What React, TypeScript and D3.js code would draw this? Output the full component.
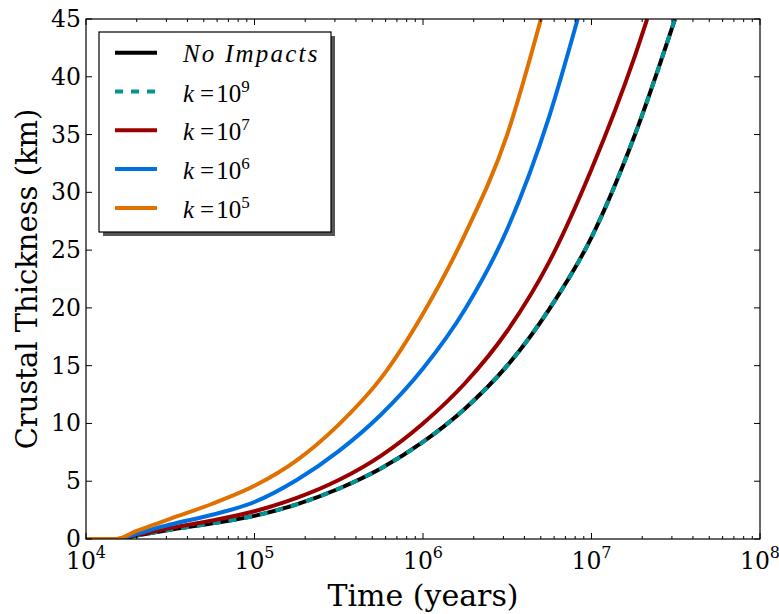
import React from 'react';
import * as d3 from 'd3';

// time in years, crustal thickness in km
const tNoImpacts = [1e4, 1.55e4, 2e4, 3.16e4, 5.62e4, 1e5, 1.78e5, 3.16e5, 5.62e5, 1e6, 1.78e6, 3.16e6, 5.62e6, 1e7, 1.78e7, 3.13e7];
const hNoImpacts = [0, 0, 0.3, 0.8, 1.35, 2.0, 3.0, 4.35, 6.1, 8.4, 11.3, 15.0, 19.9, 26.1, 34.7, 45];
const tK9 = [1e4, 1.55e4, 2e4, 3.16e4, 5.62e4, 1e5, 1.78e5, 3.16e5, 5.62e5, 1e6, 1.78e6, 3.16e6, 5.62e6, 1e7, 1.78e7, 3.13e7];
const hK9 = [0, 0, 0.3, 0.8, 1.35, 2.0, 3.0, 4.35, 6.1, 8.4, 11.3, 15.0, 19.9, 26.1, 34.7, 45];
const tK7 = [1e4, 1.55e4, 2e4, 3.16e4, 5.62e4, 1e5, 1.78e5, 3.16e5, 5.62e5, 1e6, 1.78e6, 3.16e6, 5.62e6, 1e7, 1.78e7, 2.14e7];
const hK7 = [0, 0, 0.35, 0.95, 1.6, 2.4, 3.55, 5.1, 7.2, 10.0, 13.5, 18.0, 24.0, 32.0, 41.5, 45];
const tK6 = [1e4, 1.55e4, 2e4, 3.16e4, 5.62e4, 1e5, 1.78e5, 3.16e5, 5.62e5, 1e6, 1.78e6, 3.16e6, 5.62e6, 8.28e6];
const hK6 = [0, 0, 0.45, 1.25, 2.1, 3.2, 5.1, 7.6, 10.75, 14.75, 19.9, 26.8, 36.6, 45];
const tK5 = [1e4, 1.5e4, 2e4, 3.16e4, 5.62e4, 1e5, 1.78e5, 3.16e5, 5.62e5, 1e6, 1.78e6, 3.16e6, 5.01e6];
const hK5 = [0, 0, 0.7, 1.75, 3.05, 4.6, 6.8, 9.9, 13.9, 19.5, 26.4, 35.0, 45];

const xTickExps = [4, 5, 6, 7, 8];
const yTicks = [0, 5, 10, 15, 20, 25, 30, 35, 40, 45];
const kExps = [9, 7, 6, 5];

const W = 779, H = 614;
const m = { left: 86, right: 760, top: 19, bottom: 539 };
const serif = "'DejaVu Serif', serif";
const mathFont = "'Liberation Serif', 'Times New Roman', serif";

export default function App() {
  const x = d3.scaleLog().domain([1e4, 1e8]).range([m.left, m.right]);
  const y = d3.scaleLinear().domain([0, 45]).range([m.bottom, m.top]);

  const line = d3.line<[number, number]>()
    .x(d => x(d[0]))
    .y(d => y(d[1]))
    .curve(d3.curveMonotoneX);
  const pts = (t: number[], h: number[]) => t.map((v, i) => [v, h[i]] as [number, number]);

  const series = [
    { d: line(pts(tNoImpacts, hNoImpacts)), color: '#000000', dash: null },
    { d: line(pts(tK9, hK9)), color: '#009494', dash: '8,8' },
    { d: line(pts(tK7, hK7)), color: '#990000', dash: null },
    { d: line(pts(tK6, hK6)), color: '#0070e0', dash: null },
    { d: line(pts(tK5, hK5)), color: '#e07000', dash: null },
  ];

  // minor ticks on the log axis
  const minor: number[] = [];
  for (let e = 4; e < 8; e++) for (let k = 2; k <= 9; k++) minor.push(k * Math.pow(10, e));

  const legX = 99, legY = 32, legW = 232, legH = 200;
  const rowY = (i: number) => 52.7 + i * 38.8;

  return (
    <svg width={W} height={H} style={{ position: 'absolute', left: 0, top: 0, background: '#fff' }}>
      <defs>
        <clipPath id="plotclip">
          <rect x={m.left} y={m.top} width={m.right - m.left} height={m.bottom - m.top} />
        </clipPath>
      </defs>
      <rect x={0} y={0} width={W} height={H} fill="#fff" />

      <g clipPath="url(#plotclip)">
        {series.map((s, i) => (
          <path key={i} d={s.d || ''} fill="none" stroke={s.color} strokeWidth={4}
            strokeDasharray={s.dash || undefined} />
        ))}
      </g>

      {/* frame */}
      <rect x={m.left} y={m.top} width={m.right - m.left} height={m.bottom - m.top}
        fill="none" stroke="#000" strokeWidth={1.2} />

      {/* x ticks */}
      {xTickExps.map(e => {
        const px = x(Math.pow(10, e));
        return (
          <g key={'xt' + e}>
            <line x1={px} x2={px} y1={m.bottom} y2={m.bottom - 6} stroke="#000" />
            <line x1={px} x2={px} y1={m.top} y2={m.top + 6} stroke="#000" />
            <text x={px} y={569} textAnchor="middle" fontFamily={serif} fontSize={23.5}>
              10<tspan fontSize={16} dy={-11}>{e}</tspan>
            </text>
          </g>
        );
      })}
      {minor.map(v => (
        <g key={'mt' + v}>
          <line x1={x(v)} x2={x(v)} y1={m.bottom} y2={m.bottom - 3} stroke="#000" />
          <line x1={x(v)} x2={x(v)} y1={m.top} y2={m.top + 3} stroke="#000" />
        </g>
      ))}

      {/* y ticks */}
      {yTicks.map(v => (
        <g key={'yt' + v}>
          <line x1={m.left} x2={m.left + 6} y1={y(v)} y2={y(v)} stroke="#000" />
          <line x1={m.right} x2={m.right - 6} y1={y(v)} y2={y(v)} stroke="#000" />
          <text x={81} y={y(v) + 8} textAnchor="end" fontFamily={serif} fontSize={23.5}>{v}</text>
        </g>
      ))}

      {/* axis labels */}
      <text x={(m.left + m.right) / 2} y={606} textAnchor="middle" fontFamily={serif} fontSize={30}>
        Time (years)
      </text>
      <text transform={`translate(37,${(m.top + m.bottom) / 2}) rotate(-90)`} textAnchor="middle"
        fontFamily={serif} fontSize={29}>
        Crustal Thickness (km)
      </text>

      {/* legend */}
      <rect x={legX + 4} y={legY + 4} width={legW} height={legH} fill="#555" />
      <rect x={legX} y={legY} width={legW} height={legH} fill="#fff" stroke="#000" strokeWidth={1.2} />
      {series.map((s, i) => (
        <line key={'ll' + i} x1={115} x2={157} y1={rowY(i)} y2={rowY(i)} stroke={s.color}
          strokeWidth={4} strokeDasharray={s.dash || undefined} />
      ))}
      <text x={183} y={rowY(0) + 9} fontFamily={mathFont} fontStyle="italic" fontSize={25}
        letterSpacing={2.2}>No Impacts</text>
      {kExps.map((e, i) => (
        <text key={'lk' + e} x={183} y={rowY(i + 1) + 10} fontFamily={mathFont} fontSize={25}>
          <tspan fontStyle="italic">k</tspan>
          <tspan dx={6}>=</tspan>
          <tspan dx={2}>10</tspan>
          <tspan fontSize={17} dy={-10}>{e}</tspan>
        </text>
      ))}
    </svg>
  );
}
